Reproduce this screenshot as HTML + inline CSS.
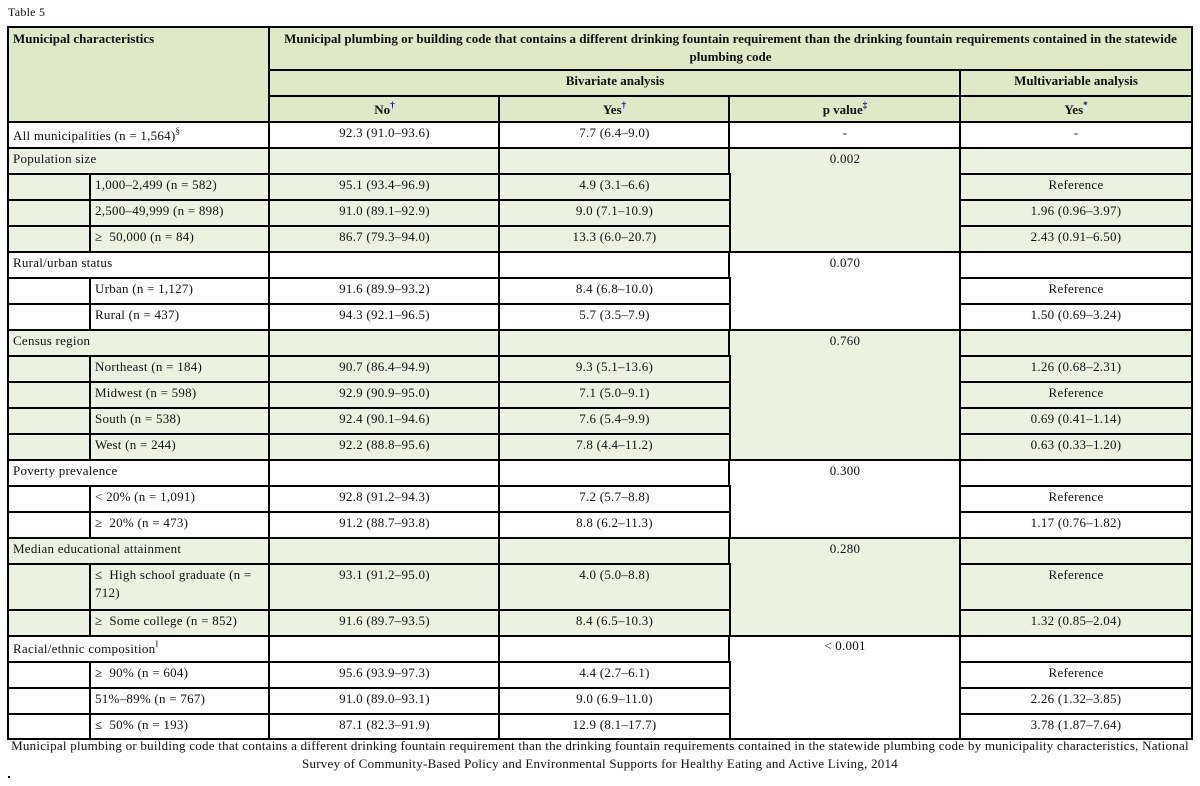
<!DOCTYPE html>
<html><head><meta charset="utf-8"><style>
body{margin:0;width:1200px;height:786px;background:#fff;position:relative;overflow:hidden;font-family:"Liberation Serif",serif;font-size:13px;letter-spacing:0.25px;color:#111}
.c{position:absolute;border:2px solid #000;box-sizing:border-box;padding:1px 4px 0 4px;line-height:18px;text-align:center}
.l{text-align:left}
.g{background:#dde9c7}.e{background:#ebf3e0}.w{background:#fff}
.b{font-weight:bold;letter-spacing:0}
sup{font-size:9px;line-height:0;background:#dde8f5;vertical-align:6px}
.cap{position:absolute;left:0;width:1200px;text-align:center;line-height:18px}
</style></head><body>
<div style="position:absolute;left:8px;top:5px;font-size:12px">Table 5</div>

<div class="c g b l" style="left:7px;top:26px;width:264px;height:98px;padding-top:2px">Municipal characteristics</div>
<div class="c g b" style="left:268px;top:26px;width:925px;height:46px;padding-top:2px">Municipal plumbing or building code that contains a different drinking fountain requirement than the drinking fountain requirements contained in the statewide plumbing code</div>
<div class="c g b" style="left:268px;top:69px;width:694px;height:29px">Bivariate analysis</div>
<div class="c g b" style="left:959px;top:69px;width:234px;height:29px">Multivariable analysis</div>
<div class="c g b" style="left:268px;top:95px;width:233px;height:29px;padding-top:4px">No<sup>†</sup></div>
<div class="c g b" style="left:498px;top:95px;width:233px;height:29px;padding-top:4px">Yes<sup>†</sup></div>
<div class="c g b" style="left:728px;top:95px;width:234px;height:29px;padding-top:4px">p value<sup>‡</sup></div>
<div class="c g b" style="left:959px;top:95px;width:234px;height:29px;padding-top:4px">Yes<sup>*</sup></div>

<div class="c w l" style="left:7px;top:121px;width:264px;height:29px;padding-top:4px">All municipalities (n = 1,564)<sup style="background:none">§</sup></div>
<div class="c w" style="left:268px;top:121px;width:233px;height:29px">92.3 (91.0–93.6)</div>
<div class="c w" style="left:498px;top:121px;width:233px;height:29px">7.7 (6.4–9.0)</div>
<div class="c w" style="left:728px;top:121px;width:234px;height:29px">-</div>
<div class="c w" style="left:959px;top:121px;width:234px;height:29px">-</div>

<div class="c e l" style="left:7px;top:147px;width:264px;height:29px">Population size</div>
<div class="c e" style="left:268px;top:147px;width:233px;height:29px"></div>
<div class="c e" style="left:498px;top:147px;width:233px;height:29px"></div>
<div class="c e" style="left:728px;top:147px;width:234px;height:107px">0.002</div>
<div class="c e" style="left:959px;top:147px;width:234px;height:29px"></div>
<div class="c e" style="left:7px;top:173px;width:85px;height:29px"></div>
<div class="c e l" style="left:89px;top:173px;width:182px;height:29px">1,000–2,499 (n = 582)</div>
<div class="c e" style="left:268px;top:173px;width:233px;height:29px">95.1 (93.4–96.9)</div>
<div class="c e" style="left:498px;top:173px;width:233px;height:29px">4.9 (3.1–6.6)</div>
<div class="c e" style="left:959px;top:173px;width:234px;height:29px">Reference</div>
<div class="c e" style="left:7px;top:199px;width:85px;height:29px"></div>
<div class="c e l" style="left:89px;top:199px;width:182px;height:29px">2,500–49,999 (n = 898)</div>
<div class="c e" style="left:268px;top:199px;width:233px;height:29px">91.0 (89.1–92.9)</div>
<div class="c e" style="left:498px;top:199px;width:233px;height:29px">9.0 (7.1–10.9)</div>
<div class="c e" style="left:959px;top:199px;width:234px;height:29px">1.96 (0.96–3.97)</div>
<div class="c e" style="left:7px;top:225px;width:85px;height:29px"></div>
<div class="c e l" style="left:89px;top:225px;width:182px;height:29px">≥&nbsp; 50,000 (n = 84)</div>
<div class="c e" style="left:268px;top:225px;width:233px;height:29px">86.7 (79.3–94.0)</div>
<div class="c e" style="left:498px;top:225px;width:233px;height:29px">13.3 (6.0–20.7)</div>
<div class="c e" style="left:959px;top:225px;width:234px;height:29px">2.43 (0.91–6.50)</div>

<div class="c w l" style="left:7px;top:251px;width:264px;height:29px">Rural/urban status</div>
<div class="c w" style="left:268px;top:251px;width:233px;height:29px"></div>
<div class="c w" style="left:498px;top:251px;width:233px;height:29px"></div>
<div class="c w" style="left:728px;top:251px;width:234px;height:81px">0.070</div>
<div class="c w" style="left:959px;top:251px;width:234px;height:29px"></div>
<div class="c w" style="left:7px;top:277px;width:85px;height:29px"></div>
<div class="c w l" style="left:89px;top:277px;width:182px;height:29px">Urban (n = 1,127)</div>
<div class="c w" style="left:268px;top:277px;width:233px;height:29px">91.6 (89.9–93.2)</div>
<div class="c w" style="left:498px;top:277px;width:233px;height:29px">8.4 (6.8–10.0)</div>
<div class="c w" style="left:959px;top:277px;width:234px;height:29px">Reference</div>
<div class="c w" style="left:7px;top:303px;width:85px;height:29px"></div>
<div class="c w l" style="left:89px;top:303px;width:182px;height:29px">Rural (n = 437)</div>
<div class="c w" style="left:268px;top:303px;width:233px;height:29px">94.3 (92.1–96.5)</div>
<div class="c w" style="left:498px;top:303px;width:233px;height:29px">5.7 (3.5–7.9)</div>
<div class="c w" style="left:959px;top:303px;width:234px;height:29px">1.50 (0.69–3.24)</div>

<div class="c e l" style="left:7px;top:329px;width:264px;height:29px">Census region</div>
<div class="c e" style="left:268px;top:329px;width:233px;height:29px"></div>
<div class="c e" style="left:498px;top:329px;width:233px;height:29px"></div>
<div class="c e" style="left:728px;top:329px;width:234px;height:133px">0.760</div>
<div class="c e" style="left:959px;top:329px;width:234px;height:29px"></div>
<div class="c e" style="left:7px;top:355px;width:85px;height:29px"></div>
<div class="c e l" style="left:89px;top:355px;width:182px;height:29px">Northeast (n = 184)</div>
<div class="c e" style="left:268px;top:355px;width:233px;height:29px">90.7 (86.4–94.9)</div>
<div class="c e" style="left:498px;top:355px;width:233px;height:29px">9.3 (5.1–13.6)</div>
<div class="c e" style="left:959px;top:355px;width:234px;height:29px">1.26 (0.68–2.31)</div>
<div class="c e" style="left:7px;top:381px;width:85px;height:29px"></div>
<div class="c e l" style="left:89px;top:381px;width:182px;height:29px">Midwest (n = 598)</div>
<div class="c e" style="left:268px;top:381px;width:233px;height:29px">92.9 (90.9–95.0)</div>
<div class="c e" style="left:498px;top:381px;width:233px;height:29px">7.1 (5.0–9.1)</div>
<div class="c e" style="left:959px;top:381px;width:234px;height:29px">Reference</div>
<div class="c e" style="left:7px;top:407px;width:85px;height:29px"></div>
<div class="c e l" style="left:89px;top:407px;width:182px;height:29px">South (n = 538)</div>
<div class="c e" style="left:268px;top:407px;width:233px;height:29px">92.4 (90.1–94.6)</div>
<div class="c e" style="left:498px;top:407px;width:233px;height:29px">7.6 (5.4–9.9)</div>
<div class="c e" style="left:959px;top:407px;width:234px;height:29px">0.69 (0.41–1.14)</div>
<div class="c e" style="left:7px;top:433px;width:85px;height:29px"></div>
<div class="c e l" style="left:89px;top:433px;width:182px;height:29px">West (n = 244)</div>
<div class="c e" style="left:268px;top:433px;width:233px;height:29px">92.2 (88.8–95.6)</div>
<div class="c e" style="left:498px;top:433px;width:233px;height:29px">7.8 (4.4–11.2)</div>
<div class="c e" style="left:959px;top:433px;width:234px;height:29px">0.63 (0.33–1.20)</div>

<div class="c w l" style="left:7px;top:459px;width:264px;height:29px">Poverty prevalence</div>
<div class="c w" style="left:268px;top:459px;width:233px;height:29px"></div>
<div class="c w" style="left:498px;top:459px;width:233px;height:29px"></div>
<div class="c w" style="left:728px;top:459px;width:234px;height:81px">0.300</div>
<div class="c w" style="left:959px;top:459px;width:234px;height:29px"></div>
<div class="c w" style="left:7px;top:485px;width:85px;height:29px"></div>
<div class="c w l" style="left:89px;top:485px;width:182px;height:29px">&lt; 20% (n = 1,091)</div>
<div class="c w" style="left:268px;top:485px;width:233px;height:29px">92.8 (91.2–94.3)</div>
<div class="c w" style="left:498px;top:485px;width:233px;height:29px">7.2 (5.7–8.8)</div>
<div class="c w" style="left:959px;top:485px;width:234px;height:29px">Reference</div>
<div class="c w" style="left:7px;top:511px;width:85px;height:29px"></div>
<div class="c w l" style="left:89px;top:511px;width:182px;height:29px">≥&nbsp; 20% (n = 473)</div>
<div class="c w" style="left:268px;top:511px;width:233px;height:29px">91.2 (88.7–93.8)</div>
<div class="c w" style="left:498px;top:511px;width:233px;height:29px">8.8 (6.2–11.3)</div>
<div class="c w" style="left:959px;top:511px;width:234px;height:29px">1.17 (0.76–1.82)</div>

<div class="c e l" style="left:7px;top:537px;width:264px;height:29px">Median educational attainment</div>
<div class="c e" style="left:268px;top:537px;width:233px;height:29px"></div>
<div class="c e" style="left:498px;top:537px;width:233px;height:29px"></div>
<div class="c e" style="left:728px;top:537px;width:234px;height:101px">0.280</div>
<div class="c e" style="left:959px;top:537px;width:234px;height:29px"></div>
<div class="c e" style="left:7px;top:563px;width:85px;height:49px"></div>
<div class="c e l" style="left:89px;top:563px;width:182px;height:49px">≤&nbsp; High school graduate (n = 712)</div>
<div class="c e" style="left:268px;top:563px;width:233px;height:49px">93.1 (91.2–95.0)</div>
<div class="c e" style="left:498px;top:563px;width:233px;height:49px">4.0 (5.0–8.8)</div>
<div class="c e" style="left:959px;top:563px;width:234px;height:49px">Reference</div>
<div class="c e" style="left:7px;top:609px;width:85px;height:29px"></div>
<div class="c e l" style="left:89px;top:609px;width:182px;height:29px">≥&nbsp; Some college (n = 852)</div>
<div class="c e" style="left:268px;top:609px;width:233px;height:29px">91.6 (89.7–93.5)</div>
<div class="c e" style="left:498px;top:609px;width:233px;height:29px">8.4 (6.5–10.3)</div>
<div class="c e" style="left:959px;top:609px;width:234px;height:29px">1.32 (0.85–2.04)</div>

<div class="c w l" style="left:7px;top:635px;width:264px;height:29px;padding-top:3px">Racial/ethnic composition<sup style="background:none">‖</sup></div>
<div class="c w" style="left:268px;top:635px;width:233px;height:29px"></div>
<div class="c w" style="left:498px;top:635px;width:233px;height:29px"></div>
<div class="c w" style="left:728px;top:635px;width:234px;height:105px;padding-top:0">&lt; 0.001</div>
<div class="c w" style="left:959px;top:635px;width:234px;height:29px"></div>
<div class="c w" style="left:7px;top:661px;width:85px;height:29px"></div>
<div class="c w l" style="left:89px;top:661px;width:182px;height:29px">≥&nbsp; 90% (n = 604)</div>
<div class="c w" style="left:268px;top:661px;width:233px;height:29px">95.6 (93.9–97.3)</div>
<div class="c w" style="left:498px;top:661px;width:233px;height:29px">4.4 (2.7–6.1)</div>
<div class="c w" style="left:959px;top:661px;width:234px;height:29px">Reference</div>
<div class="c w" style="left:7px;top:687px;width:85px;height:29px"></div>
<div class="c w l" style="left:89px;top:687px;width:182px;height:29px">51%–89% (n = 767)</div>
<div class="c w" style="left:268px;top:687px;width:233px;height:29px">91.0 (89.0–93.1)</div>
<div class="c w" style="left:498px;top:687px;width:233px;height:29px">9.0 (6.9–11.0)</div>
<div class="c w" style="left:959px;top:687px;width:234px;height:29px">2.26 (1.32–3.85)</div>
<div class="c w" style="left:7px;top:713px;width:85px;height:27px"></div>
<div class="c w l" style="left:89px;top:713px;width:182px;height:27px">≤&nbsp; 50% (n = 193)</div>
<div class="c w" style="left:268px;top:713px;width:233px;height:27px">87.1 (82.3–91.9)</div>
<div class="c w" style="left:498px;top:713px;width:233px;height:27px">12.9 (8.1–17.7)</div>
<div class="c w" style="left:959px;top:713px;width:234px;height:27px">3.78 (1.87–7.64)</div>

<div class="cap" style="top:737px">Municipal plumbing or building code that contains a different drinking fountain requirement than the drinking fountain requirements contained in the statewide plumbing code by municipality characteristics, National<br>Survey of Community-Based Policy and Environmental Supports for Healthy Eating and Active Living, 2014</div>
<div style="position:absolute;left:8px;top:776px;width:2px;height:2px;background:#000"></div>
</body></html>
